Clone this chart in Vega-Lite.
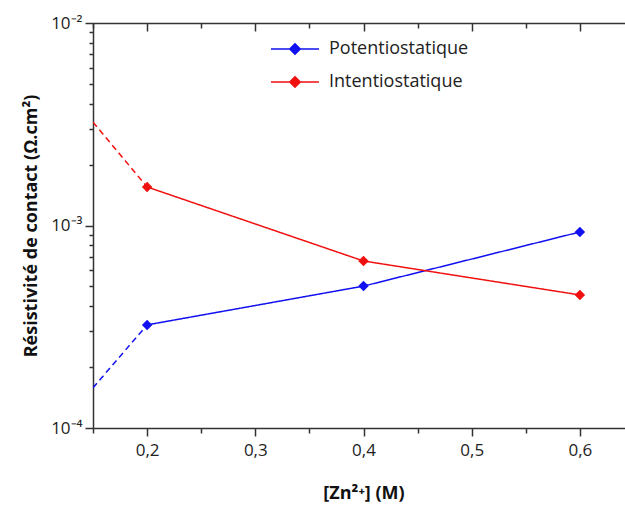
{
  "$schema": "https://vega.github.io/schema/vega-lite/v6.json",
  "autosize": "none",
  "width": 541,
  "height": 405,
  "padding": {"left": 93, "top": 23, "right": 0, "bottom": 78},
  "background": "white",
  "config": {
    "view": {"stroke": null},
    "font": "Open Sans",
    "axis": {
      "domainColor": "#333333",
      "domainWidth": 1.5,
      "tickColor": "#333333",
      "tickWidth": 1.5,
      "grid": false,
      "labelFont": "Open Sans",
      "labelFontSize": 17,
      "labelColor": "#222222",
      "titleFont": "Open Sans",
      "titleFontSize": 18,
      "titleFontWeight": "bold",
      "titleColor": "#111111"
    }
  },
  "data": {
    "values": [
      {"series": "Potentiostatique", "x": 0.15, "y": 0.000158, "seg": "dashed"},
      {"series": "Potentiostatique", "x": 0.2, "y": 0.000323, "seg": "dashed"},
      {"series": "Potentiostatique", "x": 0.2, "y": 0.000323, "seg": "solid"},
      {"series": "Potentiostatique", "x": 0.4, "y": 0.000502, "seg": "solid"},
      {"series": "Potentiostatique", "x": 0.6, "y": 0.000929, "seg": "solid"},
      {"series": "Intentiostatique", "x": 0.15, "y": 0.00324, "seg": "dashed"},
      {"series": "Intentiostatique", "x": 0.2, "y": 0.00155, "seg": "dashed"},
      {"series": "Intentiostatique", "x": 0.2, "y": 0.00155, "seg": "solid"},
      {"series": "Intentiostatique", "x": 0.4, "y": 0.000668, "seg": "solid"},
      {"series": "Intentiostatique", "x": 0.6, "y": 0.000454, "seg": "solid"}
    ]
  },
  "resolve": {"axis": {"x": "independent"}},
  "layer": [
    {
      "mark": {"type": "line", "strokeWidth": 1.5, "clip": true},
      "encoding": {
        "x": {
          "field": "x", "type": "quantitative",
          "scale": {"domain": [0.15, 0.65], "nice": false, "zero": false},
          "axis": {
            "orient": "bottom",
            "title": "[Zn²⁺] (M)",
            "values": [0.15, 0.2, 0.25, 0.3, 0.35, 0.4, 0.45, 0.5, 0.55, 0.6, 0.65],
            "labelExpr": "abs(datum.value*10 - round(datum.value*10)) < 0.01 ? replace(format(datum.value, '.1f'), '.', ',') : ''",
            "tickSize": {"condition": {"test": "abs(datum.value*10 - round(datum.value*10)) < 0.01", "value": 8}, "value": 5},
            "labelPadding": 6,
            "titlePadding": 26,
            "labelFlush": false
          }
        },
        "y": {
          "field": "y", "type": "quantitative",
          "scale": {"type": "log", "domain": [0.0001, 0.01], "nice": false},
          "axis": {
            "title": "Résistivité de contact (Ω.cm²)",
            "values": [0.0001, 0.0002, 0.0003, 0.0004, 0.0005, 0.0006, 0.0007, 0.0008, 0.0009, 0.001, 0.002, 0.003, 0.004, 0.005, 0.006, 0.007, 0.008, 0.009, 0.01],
            "labelExpr": "abs(log(datum.value)/LN10 - round(log(datum.value)/LN10)) < 0.001 ? (datum.value > 0.005 ? '10⁻²' : datum.value > 0.0005 ? '10⁻³' : '10⁻⁴') : ''",
            "tickSize": {"condition": {"test": "abs(log(datum.value)/LN10 - round(log(datum.value)/LN10)) < 0.001", "value": 8}, "value": 4},
            "labelPadding": 3,
            "titlePadding": 10,
            "labelFlush": false
          }
        },
        "color": {
          "field": "series", "type": "nominal",
          "scale": {"domain": ["Potentiostatique", "Intentiostatique"], "range": ["#1010f0", "#f01010"]},
          "legend": {
            "title": null,
            "orient": "none",
            "legendX": 186,
            "legendY": 10,
            "symbolType": "M-1.6,0L1.6,0M0,-0.35L0.35,0L0,0.35L-0.35,0Z",
            "symbolSize": 900,
            "symbolStrokeWidth": 1.5,
            "labelOffset": 18,
            "labelFont": "Open Sans",
            "labelFontSize": 18,
            "labelColor": "#222222",
            "rowPadding": 8,
            "encode": {
              "symbols": {
                "update": {
                  "fill": {"scale": "color", "field": "value"},
                  "stroke": {"scale": "color", "field": "value"},
                  "strokeWidth": {"value": 1.5},
                  "strokeDash": {"value": []},
                  "opacity": {"value": 1}
                }
              }
            }
          }
        },
        "strokeDash": {
          "field": "seg", "type": "nominal",
          "scale": {"domain": ["solid", "dashed"], "range": [[1, 0], [6, 4]]},
          "legend": null
        }
      }
    },
    {
      "transform": [{"filter": "datum.seg == 'solid'"}],
      "mark": {"type": "point", "shape": "diamond", "filled": true, "size": 110, "opacity": 1},
      "encoding": {
        "x": {
          "field": "x", "type": "quantitative",
          "scale": {"domain": [0.15, 0.65], "nice": false, "zero": false},
          "axis": {
            "orient": "top",
            "title": null,
            "labels": false,
            "values": [0.15, 0.2, 0.25, 0.3, 0.35, 0.4, 0.45, 0.5, 0.55, 0.6, 0.65],
            "tickSize": {"condition": {"test": "abs(datum.value*10 - round(datum.value*10)) < 0.01", "value": -8}, "value": -5}
          }
        },
        "y": {"field": "y", "type": "quantitative"},
        "color": {"field": "series", "type": "nominal"}
      }
    }
  ]
}
